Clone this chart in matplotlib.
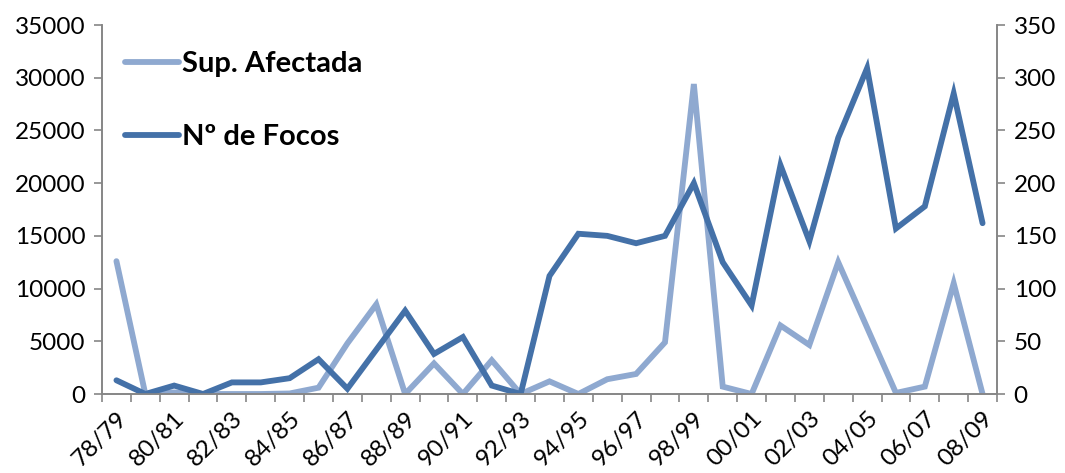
import matplotlib
matplotlib.use("Agg")
import matplotlib.pyplot as plt
import numpy as np

plt.rcParams['font.family'] = ['Lato', 'DejaVu Sans']

seasons = ["78/79", "79/80", "80/81", "81/82", "82/83", "83/84", "84/85", "85/86",
           "86/87", "87/88", "88/89", "89/90", "90/91", "91/92", "92/93", "93/94",
           "94/95", "95/96", "96/97", "97/98", "98/99", "99/00", "00/01", "01/02",
           "02/03", "03/04", "04/05", "05/06", "06/07", "07/08", "08/09"]

sup_afectada = [12600, 0, 150, 0, 0, 0, 50, 600,
                4800, 8500, 0, 2900, 0, 3200, 0, 1200,
                0, 1400, 1900, 4900, 29400, 700, 0, 6500,
                4650, 12500, 6300, 100, 700, 10500, 0]

n_focos = [13, 0, 8, 0, 11, 11, 15, 33,
           5, 42, 79, 38, 54, 8, 0, 112,
           152, 150, 143, 150, 200, 125, 84, 217,
           145, 243, 309, 157, 178, 285, 162]

light = "#8FA9D0"
dark = "#4471A8"
axis_grey = "#868686"

fig = plt.figure(figsize=(10.65, 4.73), dpi=100)
ax = fig.add_axes([102 / 1065, 1 - 394 / 473, (997 - 102) / 1065, (394 - 25) / 473])
ax2 = ax.twinx()

x = np.arange(len(seasons))
l1, = ax.plot(x, sup_afectada, color=light, lw=4.2, solid_joinstyle='miter',
              solid_capstyle='round', label="Sup. Afectada")
l2, = ax2.plot(x, n_focos, color=dark, lw=4.2, solid_joinstyle='miter',
               solid_capstyle='round', label="Nº de Focos")

ax.set_xlim(-0.5, len(seasons) - 0.5)
ax.set_ylim(0, 35000)
ax2.set_ylim(0, 350)
ax.set_yticks(np.arange(0, 35001, 5000))
ax2.set_yticks(np.arange(0, 351, 50))

ax.set_xticks(x[::2])
ax.set_xticklabels(seasons[::2], rotation=45, ha='right', va='top',
                   rotation_mode='anchor')
ax.set_xticks(np.arange(-0.5, len(seasons), 1.0), minor=True)
ax.tick_params(axis='x', which='major', length=0, pad=10, labelsize=17.5)
ax.tick_params(axis='x', which='minor', length=6, width=1.2, color=axis_grey,
               direction='out')
ax.tick_params(axis='y', length=6, width=1.2, color=axis_grey, labelsize=17.5, pad=6)
ax2.tick_params(axis='y', length=6, width=1.2, color=axis_grey, labelsize=17.5, pad=6)

for a in (ax, ax2):
    a.spines['top'].set_visible(False)
    for s in ('left', 'right', 'bottom'):
        a.spines[s].set_color(axis_grey)
        a.spines[s].set_linewidth(1.2)

ax2.set_zorder(ax.get_zorder() + 1)
ax2.patch.set_visible(False)

leg = ax2.legend(handles=[l1, l2], loc='upper left', bbox_to_anchor=(-0.004, 1.0),
                 frameon=False, handlelength=1.85, handletextpad=0.1,
                 labelspacing=1.6, prop={'weight': 'bold', 'size': 21})

fig.savefig("out.png", dpi=100)
